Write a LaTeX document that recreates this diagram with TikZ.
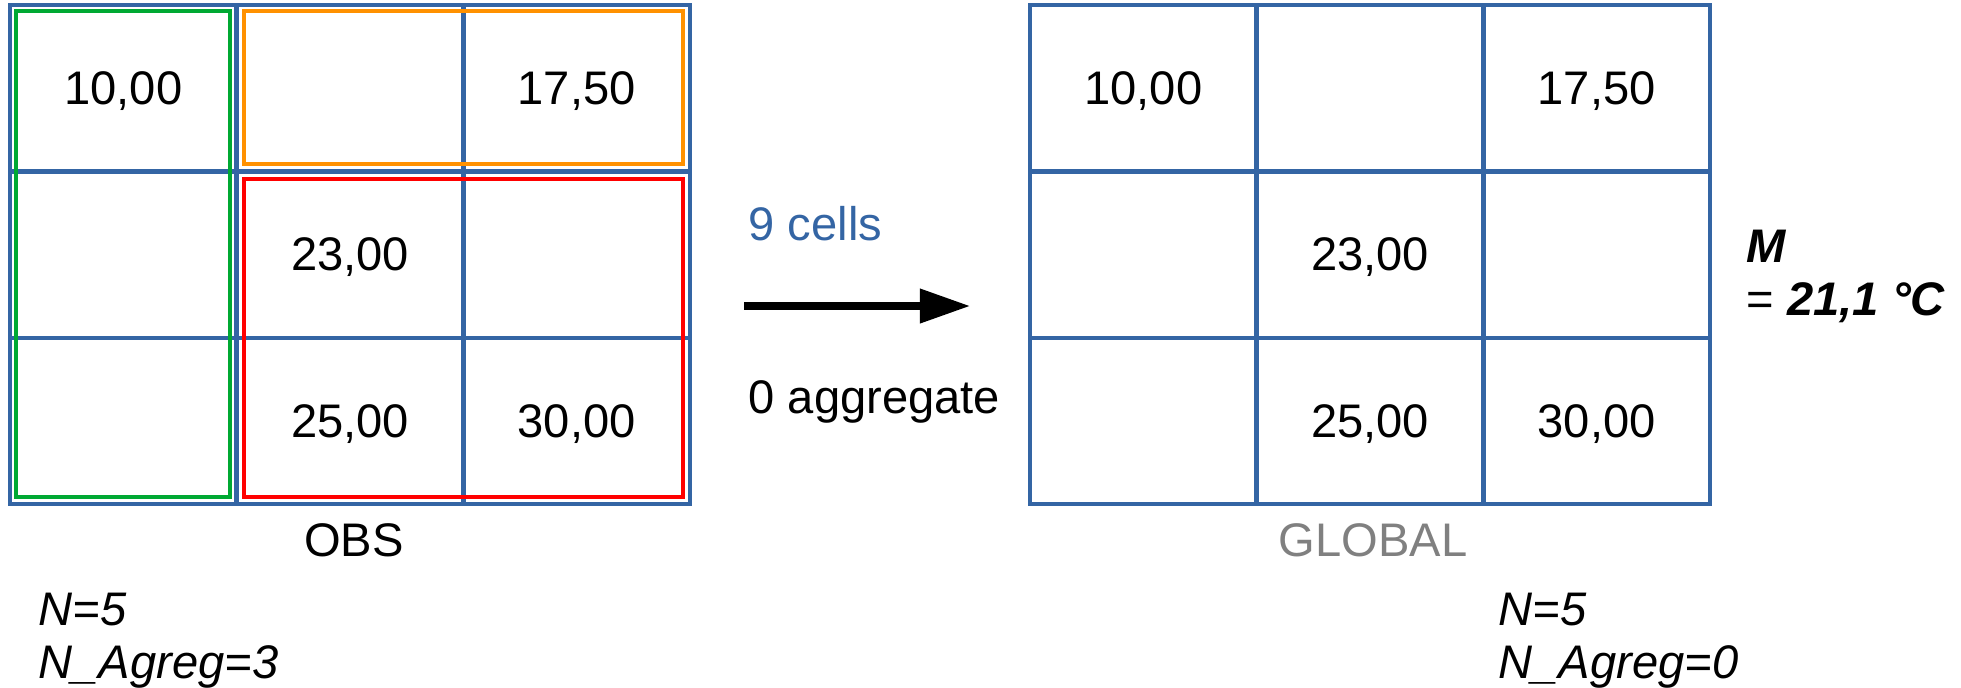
\documentclass[tikz,border=0pt]{standalone}
\usepackage{fontspec}
\setmainfont{Liberation Sans}
\usetikzlibrary{arrows.meta}
\definecolor{gridblue}{HTML}{3465A4}
\definecolor{boxgreen}{HTML}{00A933}
\definecolor{boxorange}{HTML}{FF9100}
\definecolor{boxred}{HTML}{FF0000}
\tikzset{
  cell/.style={draw=gridblue, line width=1.2pt, minimum width=2.267cm, minimum height=1.663cm, inner sep=0pt, text depth=0pt, font=\fontsize{13.4}{16}\selectfont},
  lbl/.style={inner sep=0pt, font=\fontsize{13.4}{16}\selectfont},
  group/.style={line width=1.1pt},
}
\begin{document}
\begin{tikzpicture}[x=0.01cm,y=-0.01cm]
    \useasboundingbox (0,0) rectangle (1961,687);
    % grille OBS
    \foreach \r/\c/\v in {0/0/10{,}00, 0/1/{}, 0/2/17{,}50, 1/0/{}, 1/1/23{,}00, 1/2/{}, 2/0/{}, 2/1/25{,}00, 2/2/30{,}00}
        \node[cell] (obs-\r-\c) at ({123.3+226.7*\c},{88.2+166.3*\r}) {\v};
    \draw[group, boxgreen] (16,11) rectangle (230,497);
    \draw[group, boxorange] (244,11) rectangle (683,164);
    \draw[group, boxred] (244,179) rectangle (683,497);
    \node[lbl] (obs) at (354,540) {OBS};
    \node[lbl, anchor=base west] (obsn) at (38,625) {\itshape N=5};
    \node[lbl, anchor=base west] (obsagreg) at (38,678) {\itshape N\_Agreg=3};
    % fleche
    \coordinate (arrstart) at (744,306);
    \coordinate (arrend) at (970,306);
    \draw[line width=2pt, -{Triangle[length=0.5cm, width=0.33cm]}] (arrstart) -- (arrend);
    \node[lbl, anchor=base west, text=gridblue] (cells) at (748,240) {9 cells};
    \node[lbl, anchor=base west] (aggr) at (748,413) {0 aggregate};
    % grille GLOBAL
    \foreach \r/\c/\v in {0/0/10{,}00, 0/1/{}, 0/2/17{,}50, 1/0/{}, 1/1/23{,}00, 1/2/{}, 2/0/{}, 2/1/25{,}00, 2/2/30{,}00}
        \node[cell] (glob-\r-\c) at ({1143.3+226.7*\c},{88.2+166.3*\r}) {\v};
    \node[lbl, text=gray] (global) at (1373,540) {GLOBAL};
    \node[lbl, anchor=base west] (mean) at (1746,262) {\bfseries\itshape M};
    \node[lbl, anchor=base west] (meanval) at (1746,315) {= \bfseries\itshape 21,1 °C};
    \node[lbl, anchor=base west] (globn) at (1498,625) {\itshape N=5};
    \node[lbl, anchor=base west] (globagreg) at (1498,678) {\itshape N\_Agreg=0};
\end{tikzpicture}
\end{document}
